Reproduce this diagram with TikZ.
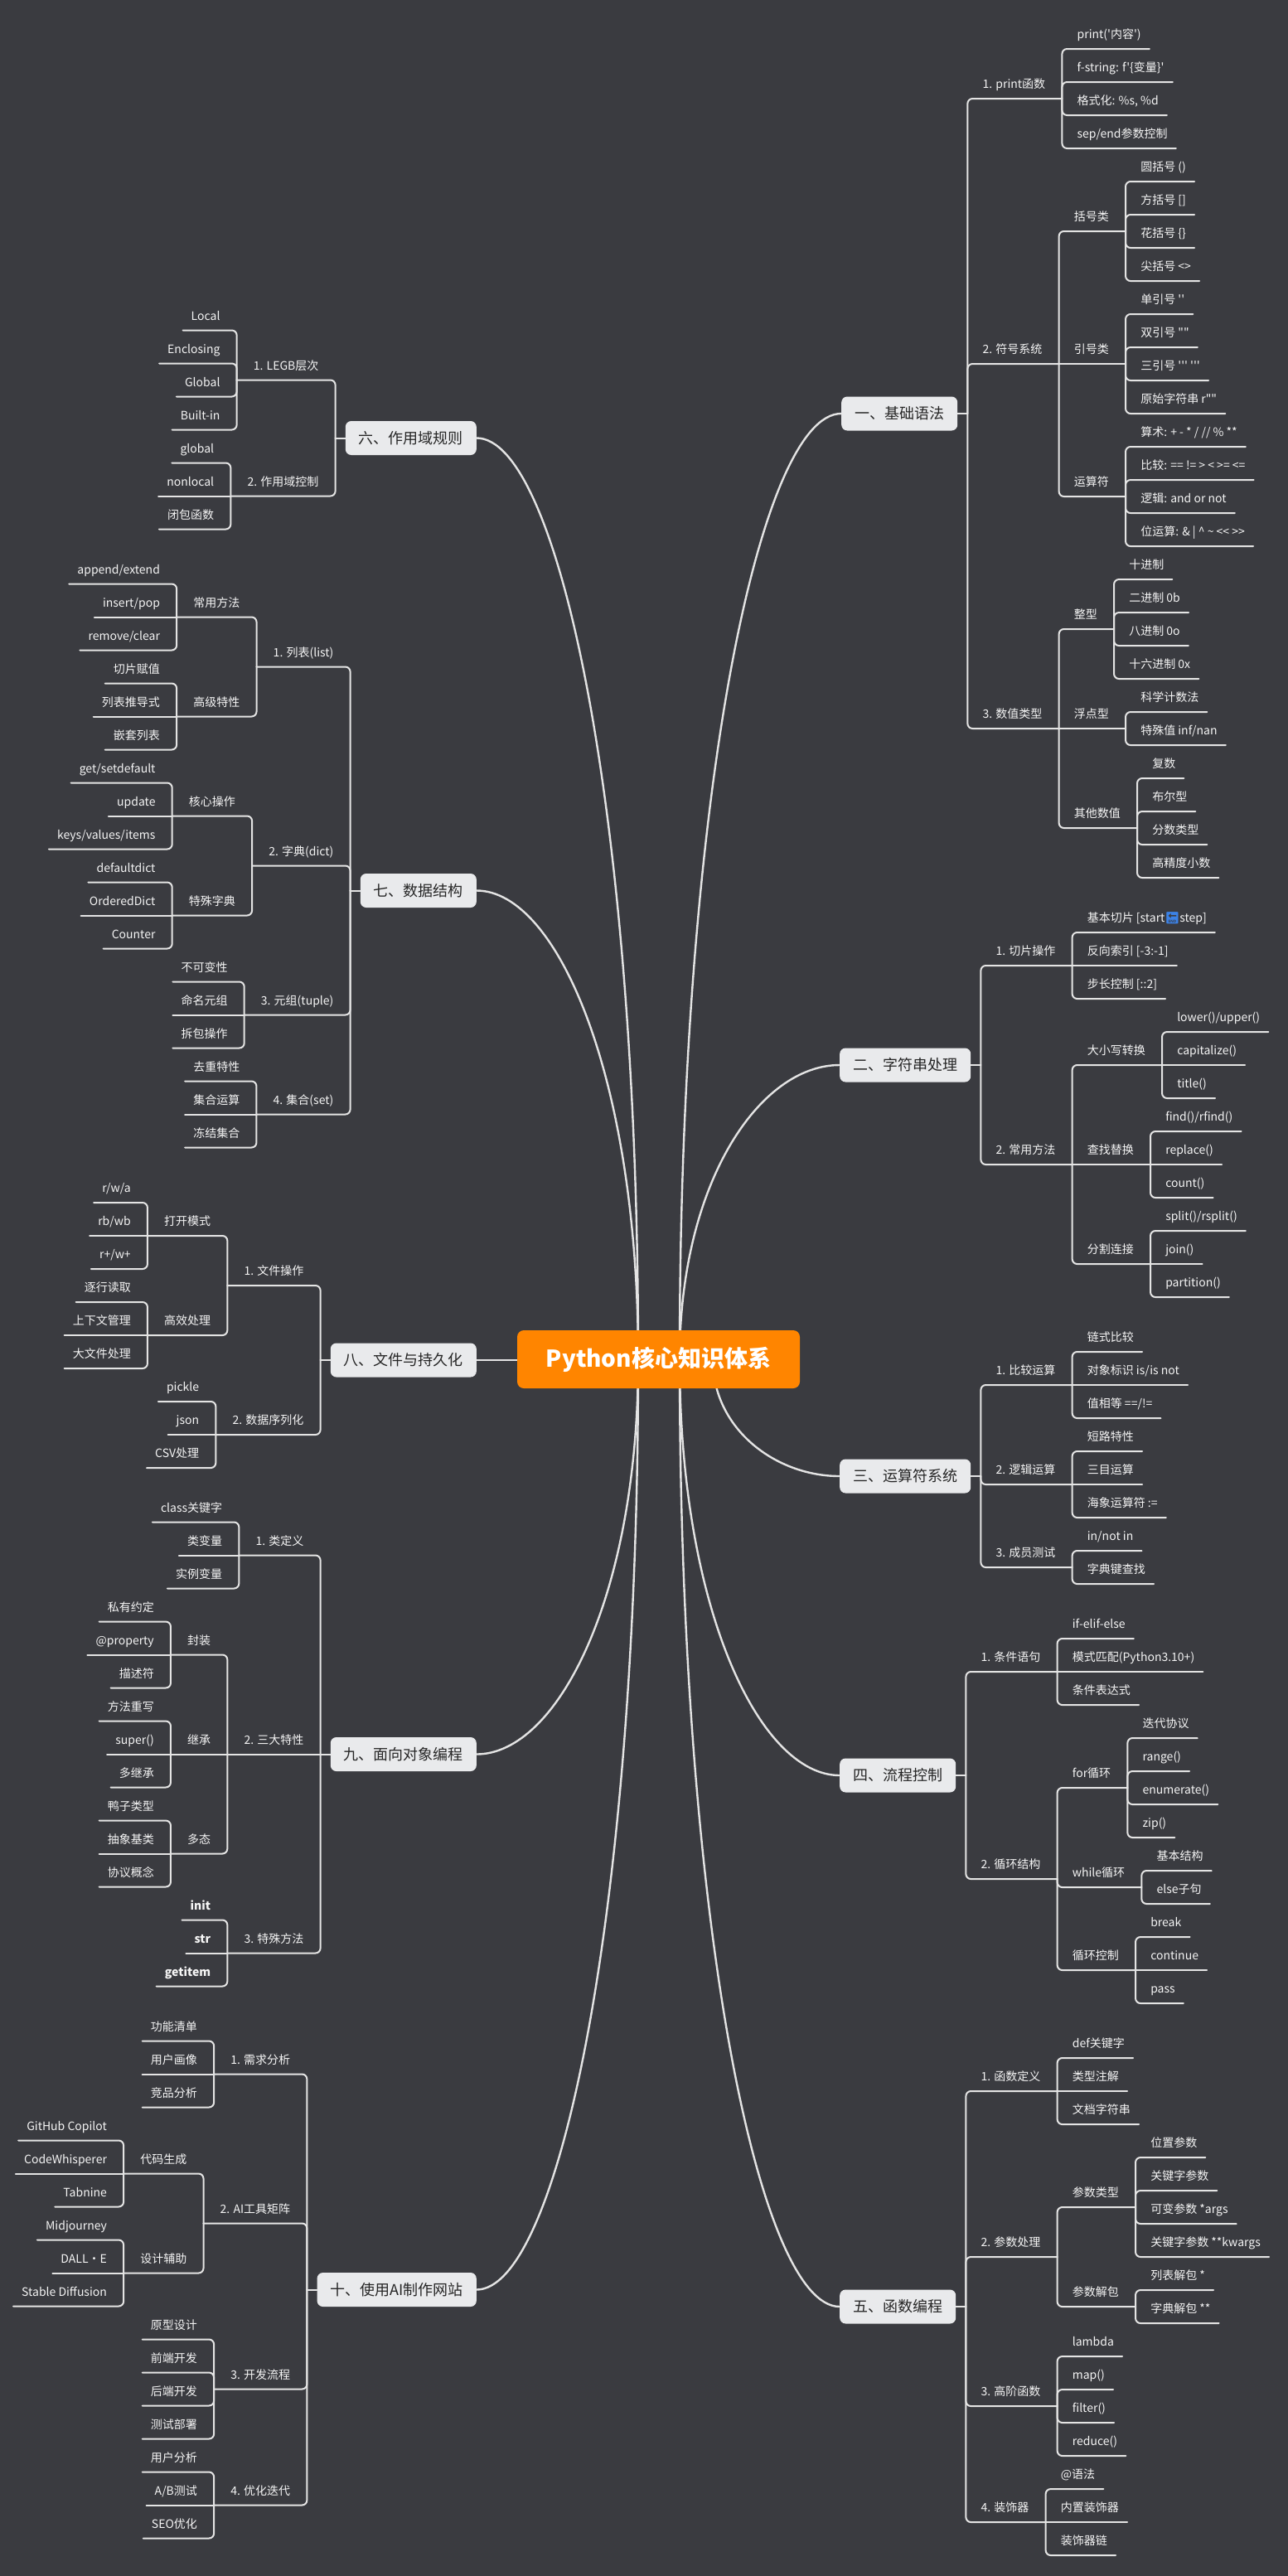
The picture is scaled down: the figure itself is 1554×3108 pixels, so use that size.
\documentclass[tikz,border=0pt]{standalone}
\usepackage{fontspec}
\newfontfamily\cjk{Noto Sans CJK SC}
\newfontfamily\emo{Noto Emoji}
\usetikzlibrary{calc}
\definecolor{bg}{RGB}{58,59,64}
\definecolor{ln}{RGB}{228,228,228}
\definecolor{txt}{RGB}{245,245,245}
\definecolor{boxc}{RGB}{233,234,236}
\definecolor{rootc}{RGB}{255,133,0}
\definecolor{emob}{RGB}{60,130,230}
\newcommand\rsub[4]{\node[rt] (#1) at ([shift={(18,#3)}]#2-b) {#4};
  \coordinate (#1-b) at ([xshift=20pt]#1.south east);
  \ifdim #3pt=0pt \draw[link] (#2-b) -- (#1-b); \else \draw[link] (#2-b) |- (#1.south west) -- (#1-b); \fi}
\newcommand\lsub[4]{\node[lt] (#1) at ([shift={(-20,#3)}]#2-b) {#4};
  \coordinate (#1-b) at ([xshift=-20pt]#1.south west);
  \ifdim #3pt=0pt \draw[link] (#2-b) -- (#1-b); \else \draw[link] (#2-b) |- (#1.south east) -- (#1-b); \fi}
\newcommand\rleaves[3]{\foreach \lbl [count=\i from 0] in {#3}{\pgfmathsetmacro\dy{40*\i-#2}
  \node[rt] (#1-\i) at ([shift={(18,\dy)}]#1-b) {\lbl};
  \ifdim\dy pt=0pt \draw[link] (#1-b) -- ([xshift=10pt]#1-\i.south east);
  \else \draw[link] (#1-b) |- (#1-\i.south west) -- ([xshift=10pt]#1-\i.south east); \fi}}
\newcommand\lleaves[3]{\foreach \lbl [count=\i from 0] in {#3}{\pgfmathsetmacro\dy{40*\i-#2}
  \node[lt] (#1-\i) at ([shift={(-20,\dy)}]#1-b) {\lbl};
  \ifdim\dy pt=0pt \draw[link] (#1-b) -- ([xshift=-10pt]#1-\i.south west);
  \else \draw[link] (#1-b) |- (#1-\i.south east) -- ([xshift=-10pt]#1-\i.south west); \fi}}
\begin{document}
\begin{tikzpicture}[x=1pt,y=-1pt,
  rt/.style={anchor=south west,inner xsep=0pt,inner ysep=9pt,text height=11pt,text depth=3pt,text=txt,font=\cjk\fontsize{14}{16}\selectfont},
  lt/.style={rt,anchor=south east},
  link/.style={draw=ln,line width=2pt,rounded corners=6pt,line cap=round},
  trunk/.style={draw=ln,line width=2.4pt},
  main/.style={fill=boxc,rounded corners=7pt,minimum height=41pt,inner xsep=16pt,text=black!85,font=\cjk\fontsize{18}{20}\selectfont},
  root/.style={fill=rootc,rounded corners=8pt,minimum width=341pt,minimum height=70pt,text=white,font=\cjk\bfseries\fontsize{28}{32}\selectfont}]
\fill[bg] (0,0) rectangle (1554,3108);
\useasboundingbox (0,0) rectangle (1554,3108);
\node[main,anchor=west] (b1) at (1015,499) {一、基础语法};
\node[main,anchor=west] (b2) at (1013,1285) {二、字符串处理};
\node[main,anchor=west] (b3) at (1013,1781) {三、运算符系统};
\node[main,anchor=west] (b4) at (1013,2142) {四、流程控制};
\node[main,anchor=west] (b5) at (1013,2783) {五、函数编程};
\node[main,anchor=east] (b6) at (575,528.5) {六、作用域规则};
\node[main,anchor=east] (b7) at (575,1074.5) {七、数据结构};
\node[main,anchor=east] (b8) at (575,1641) {八、文件与持久化};
\node[main,anchor=east] (b9) at (575,2116.5) {九、面向对象编程};
\node[main,anchor=east] (b10) at (575,2762.5) {十、使用AI制作网站};
\coordinate (rr) at (820,1640);
\coordinate (rr3) at (860,1640);
\coordinate (rl) at (770,1640);
\foreach \b in {b1,b2,b4,b5}
  \draw[trunk] (rr) .. controls ($(rr)!.6!(rr |- \b.west)$) and ($(rr |- \b.west)!.5!(\b.west)$) .. (\b.west);
\draw[trunk] (rr3) .. controls ($(rr3)!.6!(rr3 |- b3.west)$) and ($(rr3 |- b3.west)!.5!(b3.west)$) .. (b3.west);
\foreach \b in {b6,b7,b9,b10}
  \draw[trunk] (rl) .. controls ($(rl)!.6!(rl |- \b.east)$) and ($(rl |- \b.east)!.5!(\b.east)$) .. (\b.east);
\node[root] (root) at (794.5,1640) {Python核心知识体系};
\draw[trunk] (b8.east) -- (b8.east -| root.west);
\foreach \b in {b1,b2,b3,b4,b5}{\coordinate (\b-b) at ([xshift=12pt]\b.east); \draw[link] (\b.east) -- (\b-b);}
\foreach \b in {b6,b7,b8,b9,b10}{\coordinate (\b-b) at ([xshift=-12pt]\b.west); \draw[link] (\b.west) -- (\b-b);}
\rsub{a1}{b1}{-380}{1. print函数}
\rleaves{a1}{60}{print('内容'),{f-string: f'\{变量\}'},{格式化: \%s, \%d},sep/end参数控制}
\rsub{a2}{b1}{-60}{2. 符号系统}
\rsub{a21}{a2}{-160}{括号类}
\rleaves{a21}{60}{圆括号 (),{方括号 []},花括号 \{\},尖括号 <>}
\rsub{a22}{a2}{0}{引号类}
\rleaves{a22}{60}{单引号 '',双引号 "",三引号 ''' ''',原始字符串 r""}
\rsub{a23}{a2}{160}{运算符}
\rleaves{a23}{60}{算术: + - * / // \% **,比较: == != > < >= <=,逻辑: and or not,位运算: \& | \textasciicircum{} \textasciitilde{} << >>}
\rsub{a3}{b1}{380}{3. 数值类型}
\rsub{a31}{a3}{-120}{整型}
\rleaves{a31}{60}{十进制,二进制 0b,八进制 0o,十六进制 0x}
\rsub{a32}{a3}{0}{浮点型}
\rleaves{a32}{20}{科学计数法,特殊值 inf/nan}
\rsub{a33}{a3}{120}{其他数值}
\rleaves{a33}{60}{复数,布尔型,分数类型,高精度小数}
\rsub{c1}{b2}{-120}{1. 切片操作}
\rleaves{c1}{40}{{基本切片 [start{\emo\color{emob}🔚}step]},{反向索引 [-3:-1]},{步长控制 [::2]}}
\rsub{c2}{b2}{120}{2. 常用方法}
\rsub{c21}{c2}{-120}{大小写转换}
\rleaves{c21}{40}{lower()/upper(),capitalize(),title()}
\rsub{c22}{c2}{0}{查找替换}
\rleaves{c22}{40}{find()/rfind(),replace(),count()}
\rsub{c23}{c2}{120}{分割连接}
\rleaves{c23}{40}{split()/rsplit(),join(),partition()}
\rsub{d1}{b3}{-110}{1. 比较运算}
\rleaves{d1}{40}{链式比较,对象标识 is/is not,值相等 ==/!=}
\rsub{d2}{b3}{10}{2. 逻辑运算}
\rleaves{d2}{40}{短路特性,三目运算,海象运算符 :=}
\rsub{d3}{b3}{110}{3. 成员测试}
\rleaves{d3}{20}{in/not in,字典键查找}
\rsub{e1}{b4}{-125}{1. 条件语句}
\rleaves{e1}{40}{if-elif-else,模式匹配(Python3.10+),条件表达式}
\rsub{e2}{b4}{125}{2. 循环结构}
\rsub{e21}{e2}{-110}{for循环}
\rleaves{e21}{60}{迭代协议,range(),enumerate(),zip()}
\rsub{e22}{e2}{10}{while循环}
\rleaves{e22}{20}{基本结构,else子句}
\rsub{e23}{e2}{110}{循环控制}
\rleaves{e23}{40}{break,continue,pass}
\rsub{f1}{b5}{-260}{1. 函数定义}
\rleaves{f1}{40}{def关键字,类型注解,文档字符串}
\rsub{f2}{b5}{-60}{2. 参数处理}
\rsub{f21}{f2}{-60}{参数类型}
\rleaves{f21}{60}{位置参数,关键字参数,可变参数 *args,关键字参数 **kwargs}
\rsub{f22}{f2}{60}{参数解包}
\rleaves{f22}{20}{列表解包 *,字典解包 **}
\rsub{f3}{b5}{120}{3. 高阶函数}
\rleaves{f3}{60}{lambda,map(),filter(),reduce()}
\rsub{f4}{b5}{260}{4. 装饰器}
\rleaves{f4}{40}{@语法,内置装饰器,装饰器链}
\lsub{g1}{b6}{-70}{1. LEGB层次}
\lleaves{g1}{60}{Local,Enclosing,Global,Built-in}
\lsub{g2}{b6}{70}{2. 作用域控制}
\lleaves{g2}{40}{global,nonlocal,闭包函数}
\lsub{h1}{b7}{-270}{1. 列表(list)}
\lsub{h11}{h1}{-60}{常用方法}
\lleaves{h11}{40}{append/extend,insert/pop,remove/clear}
\lsub{h12}{h1}{60}{高级特性}
\lleaves{h12}{40}{切片赋值,列表推导式,嵌套列表}
\lsub{h2}{b7}{-30}{2. 字典(dict)}
\lsub{h21}{h2}{-60}{核心操作}
\lleaves{h21}{40}{get/setdefault,update,keys/values/items}
\lsub{h22}{h2}{60}{特殊字典}
\lleaves{h22}{40}{defaultdict,OrderedDict,Counter}
\lsub{h3}{b7}{150}{3. 元组(tuple)}
\lleaves{h3}{40}{不可变性,命名元组,拆包操作}
\lsub{h4}{b7}{270}{4. 集合(set)}
\lleaves{h4}{40}{去重特性,集合运算,冻结集合}
\lsub{i1}{b8}{-90}{1. 文件操作}
\lsub{i11}{i1}{-60}{打开模式}
\lleaves{i11}{40}{r/w/a,rb/wb,r+/w+}
\lsub{i12}{i1}{60}{高效处理}
\lleaves{i12}{40}{逐行读取,上下文管理,大文件处理}
\lsub{i2}{b8}{90}{2. 数据序列化}
\lleaves{i2}{40}{pickle,json,CSV处理}
\lsub{j1}{b9}{-240}{1. 类定义}
\lleaves{j1}{40}{class关键字,类变量,实例变量}
\lsub{j2}{b9}{0}{2. 三大特性}
\lsub{j21}{j2}{-120}{封装}
\lleaves{j21}{40}{私有约定,@property,描述符}
\lsub{j22}{j2}{0}{继承}
\lleaves{j22}{40}{方法重写,super(),多继承}
\lsub{j23}{j2}{120}{多态}
\lleaves{j23}{40}{鸭子类型,抽象基类,协议概念}
\lsub{j3}{b9}{240}{3. 特殊方法}
\lleaves{j3}{40}{\textbf{init},\textbf{str},\textbf{getitem}}
\lsub{k1}{b10}{-260}{1. 需求分析}
\lleaves{k1}{40}{功能清单,用户画像,竞品分析}
\lsub{k2}{b10}{-80}{2. AI工具矩阵}
\lsub{k21}{k2}{-60}{代码生成}
\lleaves{k21}{40}{GitHub Copilot,CodeWhisperer,Tabnine}
\lsub{k22}{k2}{60}{设计辅助}
\lleaves{k22}{40}{Midjourney,DALL·E,Stable Diffusion}
\lsub{k3}{b10}{120}{3. 开发流程}
\lleaves{k3}{60}{原型设计,前端开发,后端开发,测试部署}
\lsub{k4}{b10}{260}{4. 优化迭代}
\lleaves{k4}{40}{用户分析,A/B测试,SEO优化}
\end{tikzpicture}
\end{document}
